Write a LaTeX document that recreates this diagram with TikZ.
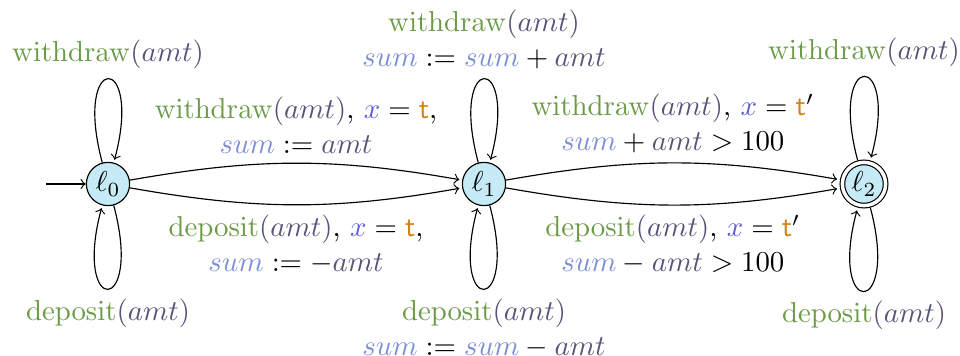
\documentclass[tikz,border=0pt]{standalone}
\definecolor{actc}{HTML}{6B9A46}
\definecolor{amtc}{HTML}{55557A}
\definecolor{sumc}{HTML}{7B8ED6}
\definecolor{xc}{HTML}{5B5BD6}
\definecolor{tc}{HTML}{D5800A}
\definecolor{nodefill}{HTML}{C6EBF7}
\newcommand{\act}[1]{\textcolor{actc}{\mathrm{#1}}}
\newcommand{\amtv}{\textcolor{amtc}{amt}}
\newcommand{\sumv}{\textcolor{sumc}{sum}}
\newcommand{\xv}{\textcolor{xc}{x}}
\newcommand{\tv}{\textcolor{tc}{\mathsf{t}}}
\newcommand{\amtarg}{\textcolor{amtc}{(}\amtv\textcolor{amtc}{)}}
\begin{document}
\begin{tikzpicture}[x=0.347pt,y=0.347pt,>=to,
  state/.style={circle,draw,fill=nodefill,minimum size=15pt,inner sep=0pt},
  trans/.style={->,shorten >=1pt},
  lp/.style={trans,min distance=40pt},
  lbl/.style={align=center}]
\useasboundingbox (0,0) rectangle (960,356);
\node[state] (l0) at (108,172) {$\ell_0$};
\node[state] (l1) at (484,172) {$\ell_1$};
\node[state,double,double distance=1.2pt,outer sep=1pt] (l2) at (864,172) {$\ell_2$};
\coordinate (init) at (46,172);
\draw[->] (init) -- (l0);
% loops
\draw[lp] (l0) to[out=105,in=75] node[above,lbl] {$\act{withdraw}\amtarg$} (l0);
\draw[lp] (l0) to[out=285,in=255] node[below,lbl] {$\act{deposit}\amtarg$} (l0);
\draw[lp] (l1) to[out=105,in=75] node[above,lbl] {$\act{withdraw}\amtarg$\\$\sumv:=\sumv+\amtv$} (l1);
\draw[lp] (l1) to[out=285,in=255] node[below,lbl] {$\act{deposit}\amtarg$\\$\sumv:=\sumv-\amtv$} (l1);
\draw[lp] (l2) to[out=105,in=75] node[above,lbl] {$\act{withdraw}\amtarg$} (l2);
\draw[lp] (l2) to[out=285,in=255] node[below,lbl] {$\act{deposit}\amtarg$} (l2);
% transitions
\draw[trans] (l0) to[bend left=10] node[above,lbl] {$\act{withdraw}\amtarg$, $\xv=\tv$,\\$\sumv:=\amtv$} (l1);
\draw[trans] (l0) to[bend right=10] node[below,lbl] {$\act{deposit}\amtarg$, $\xv=\tv$,\\$\sumv:=-\amtv$} (l1);
\draw[trans] (l1) to[bend left=10] node[above,lbl] {$\act{withdraw}\amtarg$, $\xv=\tv'$\\$\sumv+\amtv>100$} (l2);
\draw[trans] (l1) to[bend right=10] node[below,lbl] {$\act{deposit}\amtarg$, $\xv=\tv'$\\$\sumv-\amtv>100$} (l2);
\end{tikzpicture}
\end{document}
